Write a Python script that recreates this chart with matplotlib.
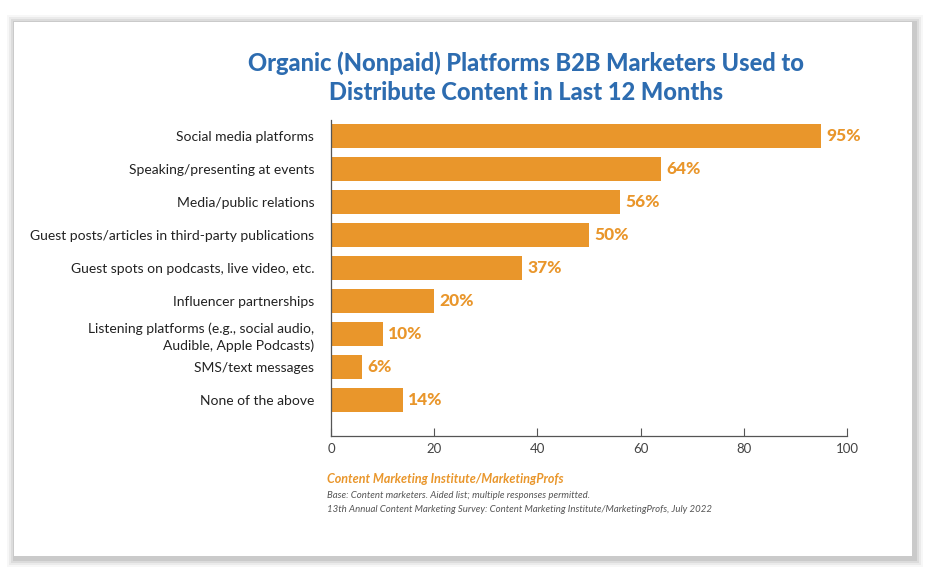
import matplotlib
matplotlib.use("Agg")
import matplotlib.pyplot as plt
from matplotlib.patches import Rectangle

categories = [
    "Social media platforms",
    "Speaking/presenting at events",
    "Media/public relations",
    "Guest posts/articles in third-party publications",
    "Guest spots on podcasts, live video, etc.",
    "Influencer partnerships",
    "Listening platforms (e.g., social audio,\nAudible, Apple Podcasts)",
    "SMS/text messages",
    "None of the above",
]
values = [95, 64, 56, 50, 37, 20, 10, 6, 14]
xticks = [0, 20, 40, 60, 80, 100]

title = "Organic (Nonpaid) Platforms B2B Marketers Used to\nDistribute Content in Last 12 Months"
source = "Content Marketing Institute/MarketingProfs"
note1 = "Base: Content marketers. Aided list; multiple responses permitted."
note2 = "13th Annual Content Marketing Survey: Content Marketing Institute/MarketingProfs, July 2022"

BAR = "#E9962B"
BLUE = "#2D6CB0"
FONT = "Lato"

W, H = 936, 584
fig = plt.figure(figsize=(W / 100, H / 100), dpi=100)
fig.patch.set_facecolor("white")

# card with shadow
bg = fig.add_axes([0, 0, 1, 1])
bg.set_xlim(0, W)
bg.set_ylim(H, 0)
bg.axis("off")
for i, a in enumerate([0.05, 0.08, 0.11, 0.15]):
    d = 9 - 2 * i
    bg.add_patch(Rectangle((14 - d + 2, 22 - d + 2), 898 + 2 * d, 534 + 2 * d,
                           facecolor="#666666", alpha=a, edgecolor="none"))
bg.add_patch(Rectangle((14, 22), 898, 534, facecolor="white", edgecolor="none"))

ax = fig.add_axes([331 / W, 1 - 436 / H, (847 - 331) / W, (436 - 120) / H])
ax.set_facecolor("none")
y = list(range(len(categories)))
ax.barh(y, values, height=0.72, color=BAR)
ax.set_ylim(9.09, -0.48)
ax.set_xlim(0, 100)
ax.set_yticks(y)
ax.set_yticklabels(categories, fontsize=10, family=FONT, color="#222222",
                   linespacing=1.45)
ax.tick_params(axis="y", length=0, pad=12)
ax.set_xticks(xticks)
ax.set_xticklabels([str(t) for t in xticks], fontsize=9.5, family=FONT, color="#444444")
ax.tick_params(axis="x", direction="in", length=6, color="#555555", width=0.8, pad=5)
for s in ["top", "right"]:
    ax.spines[s].set_visible(False)
for s in ["left", "bottom"]:
    ax.spines[s].set_color("#555555")
    ax.spines[s].set_linewidth(0.9)

for yi, v in zip(y, values):
    ax.text(v + 1.0, yi, f"{v}%", va="center", ha="left", fontsize=12.5,
            fontweight="black", family=FONT, color=BAR)

fig.text(526 / W, 1 - 78 / H, title, ha="center", va="center", fontsize=17,
         fontweight="black", family=FONT, color=BLUE, linespacing=1.3)

fig.text(327 / W, 1 - 479 / H, source, ha="left", va="center", fontsize=9,
         fontweight="bold", style="italic", family=FONT, color=BAR)
fig.text(327 / W, 1 - 495 / H, note1, ha="left", va="center", fontsize=6.9,
         style="italic", family=FONT, color="#555555")
fig.text(327 / W, 1 - 509 / H, note2, ha="left", va="center", fontsize=6.9,
         style="italic", family=FONT, color="#555555")

fig.savefig("out.png", dpi=100, facecolor="white")
